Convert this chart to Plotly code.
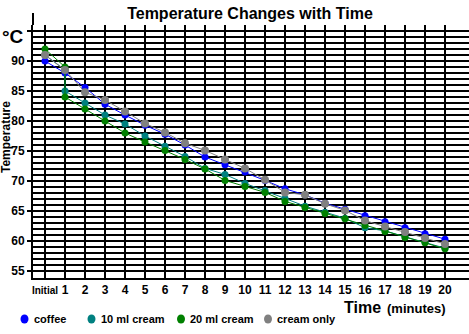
import plotly.graph_objects as go

tick_labels = ["Initial"] + [str(i) for i in range(1, 21)]
times = list(range(0, 21))
times_cream = [0, 1] + list(range(1, 21))  # cream added at minute 1

coffee = [90, 88, 85.6, 82.8, 81.0, 79.3, 77.8, 76.0, 74.0, 72.7, 71.5,
          70.1, 68.7, 67.7, 66.3, 65.3, 64.2, 63.2, 62.2, 61.2, 60.3]
cream10 = [91, 88.5, 85, 83, 81, 79.5, 77.5, 75.8, 74.1, 72.1, 71.1, 69.6,
           68.4, 67.1, 65.8, 64.8, 63.8, 62.2, 61.7, 60.7, 59.8, 58.8]
cream20 = [92, 89, 84, 82, 80, 78, 76.5, 75.1, 73.6, 72.0, 70.1, 69.1,
           68.1, 66.6, 65.6, 64.6, 63.7, 62.6, 61.6, 60.6, 59.7, 58.7]
cream_only = [91, 88.5, 84.8, 83.5, 81.6, 79.6, 78.1, 76.3, 75.1, 73.6, 72.1,
              70.2, 68.1, 67.7, 66.2, 65.1, 63.4, 62.4, 61.5, 60.5, 59.5]

series_names = ["coffee", "10 ml cream", "20 ml cream", "cream only"]
colors = ["#0000FF", "#008080", "#008000", "#808080"]

FONT = "Liberation Sans, Arial, sans-serif"
W, H = 469, 334
ML, MR, MT, MB = 33, 0, 25, 56
PW, PH = W - ML - MR, H - MT - MB

def px(xp):
    return (xp - ML) / PW

def py(yp):
    return (H - MB - yp) / PH

fig = go.Figure()
data = [(times, coffee, 0, 7), (times_cream, cream10, 1, 7),
        (times_cream, cream20, 2, 7), (times, cream_only, 3, 8)]
for xs, ys, i, ms in data:
    fig.add_trace(go.Scatter(
        x=xs, y=ys, mode="lines+markers", name=series_names[i],
        line=dict(color=colors[i], width=1),
        marker=dict(color=colors[i], size=ms),
        showlegend=False, cliponaxis=False))

ticktext = [("<span style='font-size:10px'>%s</span>" % t) if t == "Initial" else t
            for t in tick_labels]

fig.update_layout(
    width=W, height=H,
    margin=dict(l=ML, r=MR, t=MT, b=MB),
    paper_bgcolor="white", plot_bgcolor="white",
    font=dict(family=FONT, color="black"),
    title=dict(text="Temperature Changes with Time", x=250 / W, xref="container",
               xanchor="center", y=1 - 13 / H, yref="container", yanchor="middle",
               font=dict(size=16, weight="bold", family=FONT, color="black")),
    xaxis=dict(range=[-0.6, 21.2], tickvals=times, ticktext=ticktext,
               showgrid=True, gridcolor="black", gridwidth=2,
               showline=True, linecolor="black", linewidth=2,
               ticks="", zeroline=False,
               tickfont=dict(size=12, weight="bold", family=FONT, color="black")),
    yaxis=dict(range=[53.8333, 96.0], tickvals=[55, 60, 65, 70, 75, 80, 85, 90, 95],
               ticktext=["55", "60", "65", "70", "75", "80", "85", "90", ""],
               showgrid=True, gridcolor="black", gridwidth=1.5,
               minor=dict(dtick=1, tick0=0, showgrid=True, gridcolor="black", gridwidth=1.5),
               showline=True, linecolor="black", linewidth=2,
               ticks="outside", ticklen=4, tickwidth=2, tickcolor="black",
               zeroline=False,
               tickfont=dict(size=12, weight="bold", family=FONT, color="black")),
)

# extension of the y axis line above the grid
fig.add_shape(type="line", xref="paper", yref="paper", x0=0, x1=0,
              y0=1, y1=py(13), line=dict(color="black", width=2))

ann = [
    dict(text="°C", x=px(13), y=py(37), size=19),
    dict(text="Temperature", x=px(6), y=py(137), size=12, textangle=-90),
    dict(text="Time", x=px(362), y=py(307), size=16),
    dict(text="(minutes)", x=px(416.5), y=py(308), size=13),
]
for a in ann:
    fig.add_annotation(text=a["text"], x=a["x"], y=a["y"], xref="paper", yref="paper",
                       showarrow=False, xanchor="center", yanchor="middle",
                       textangle=a.get("textangle", 0),
                       font=dict(size=a["size"], weight="bold", family=FONT, color="black"))

# manual legend
leg_marker_x = [24.5, 91.5, 181, 268]
leg_text_x = [32, 99, 188, 275]
leg_y = 319
for i in range(4):
    fig.add_shape(type="circle", xref="paper", yref="paper",
                  xsizemode="pixel", ysizemode="pixel",
                  xanchor=px(leg_marker_x[i]), yanchor=py(leg_y),
                  x0=-4, x1=4, y0=-4.5, y1=4.5,
                  fillcolor=colors[i], line=dict(width=0))
    fig.add_annotation(text=series_names[i], x=px(leg_text_x[i]), y=py(leg_y),
                       xref="paper", yref="paper", showarrow=False,
                       xanchor="left", yanchor="middle",
                       font=dict(size=11, weight="bold", family=FONT, color="black"))

fig.write_html("out.html")
